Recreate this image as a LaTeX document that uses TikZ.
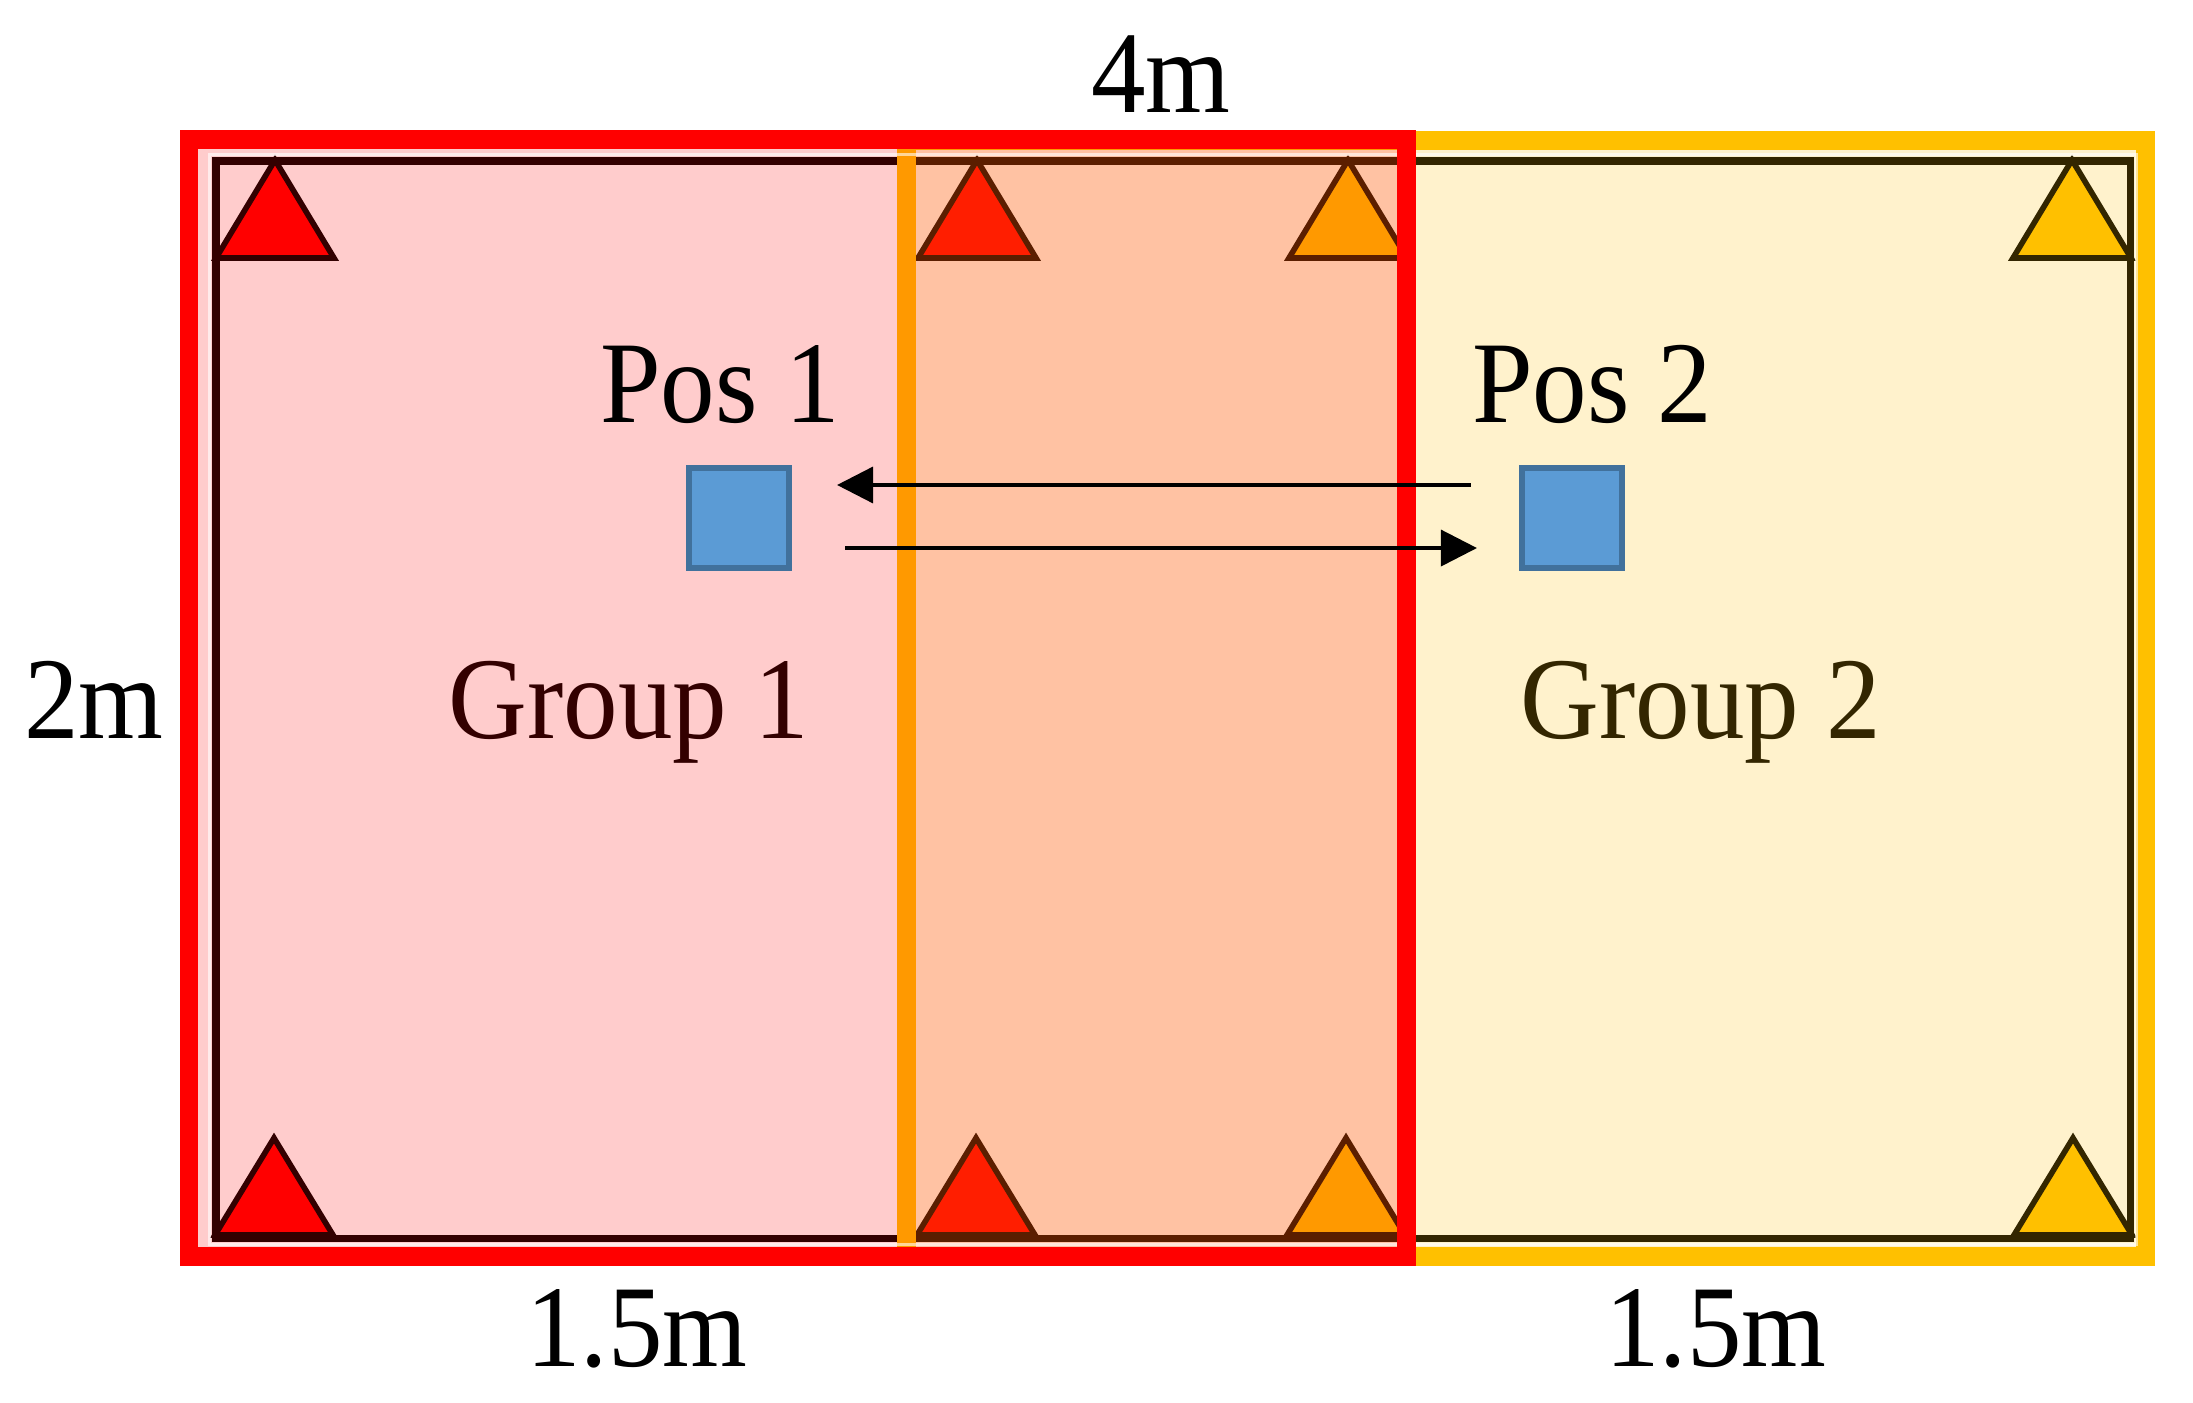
\documentclass[tikz,border=0pt]{standalone}
\usepackage{graphicx}
\usepackage{fontspec}
\setmainfont{Liberation Serif}
\usetikzlibrary{arrows.meta}
\definecolor{gred}{HTML}{FF0000}
\definecolor{gyel}{HTML}{FFC000}
\definecolor{pblue}{HTML}{5B9BD5}
\definecolor{pblueb}{HTML}{41719C}
\newcommand{\vst}[1]{\scalebox{1}[1.07]{#1}}
\newcommand{\mytri}[4]{\draw[#1] ({#2-59},#4) -- (#2,#3) -- ({#2+59},#4) -- cycle;}
\begin{document}
\begin{tikzpicture}[x=0.01cm,y=-0.01cm,
  lbl/.style={font=\fontsize{31}{36}\selectfont, inner sep=0pt, anchor=base},
  room/.style={draw=black, line width=2pt},
  triA/.style={fill=gred, draw=black, line width=1.6pt},
  triB/.style={fill=gyel, draw=black, line width=1.6pt},
  posbox/.style={draw=pblueb, fill=pblue, line width=1.7pt, minimum size=1.0cm, inner sep=0pt},
  arr/.style={draw=black, line width=1pt, -{Triangle[length=0.36cm,width=0.36cm]}}
]
\useasboundingbox (0,0) rectangle (2193,1402);
% room
\draw[room] (216,161) rectangle (2130,1238);
% sensors
\mytri{triA}{275}{160}{258}
\mytri{triA}{977}{160}{258}
\mytri{triB}{1348}{160}{258}
\mytri{triB}{2072}{160}{258}
\mytri{triA}{274}{1138}{1235}
\mytri{triA}{976}{1138}{1235}
\mytri{triB}{1346}{1138}{1235}
\mytri{triB}{2073}{1138}{1235}
% group labels (under the tinted areas)
\node[lbl] (g1) at (629,738) {\vst{Group 1}};
\node[lbl] (g2) at (1701,738) {\vst{Group 2}};
% group 2 area
\fill[gyel, opacity=0.2] (906,140) rectangle (2145,1256.5);
\draw[gyel, line width=5.4pt] (906,140) rectangle (2145,1256.5);
% group 1 area
\fill[gred, opacity=0.2] (189,139.5) rectangle (1406,1256.5);
\draw[white, opacity=0.6, line width=1.1pt] (209.5,154.5) rectangle (2136.5,1244.5);
\draw[gred, line width=5.4pt] (189,139.5) rectangle (1406,1256.5);
% positions
\node[posbox] (sq1) at (739,518) {};
\node[posbox] (sq2) at (1572,518) {};
\node[lbl] (p1) at (720,422) {\vst{Pos 1}};
\node[lbl] (p2) at (1592,422) {\vst{Pos 2}};
\draw[arr] ([xshift=-0.48cm,yshift=0.33cm]sq2.west) -- ([xshift=0.45cm,yshift=0.33cm]sq1.east);
\draw[arr] ([xshift=0.53cm,yshift=-0.30cm]sq1.east) -- ([xshift=-0.42cm,yshift=-0.30cm]sq2.west);
% dimensions
\node[lbl] (d4) at (1161,112) {\vst{4m}};
\node[lbl] (d2) at (94,738) {\vst{2m}};
\node[lbl] (d15a) at (637,1366) {\vst{1.5m}};
\node[lbl] (d15b) at (1716,1366) {\vst{1.5m}};
\end{tikzpicture}
\end{document}
